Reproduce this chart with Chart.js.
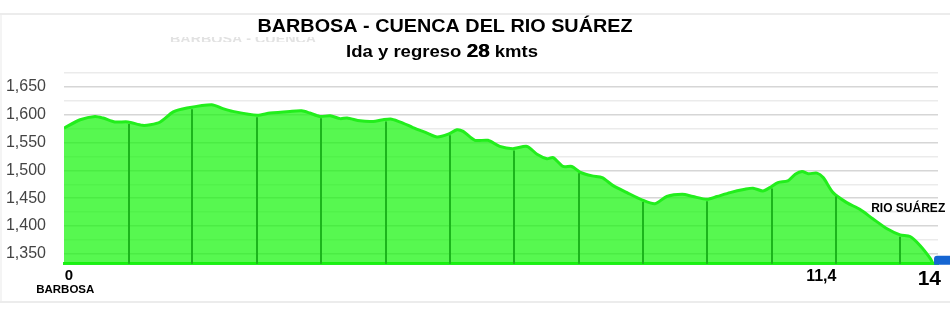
<!DOCTYPE html>
<html>
<head>
<meta charset="utf-8">
<title>Barbosa - Cuenca del Rio Suárez</title>
<script src="https://cdn.jsdelivr.net/npm/chart.js@4.4.1/dist/chart.umd.min.js"></script>
<style>
  html, body { margin: 0; padding: 0; background: #fff; }
  canvas { display: block; }
</style>
</head>
<body>
<canvas id="profile" width="950" height="314"></canvas>
<script>
// distance along the route (km) and elevation (m)
const distanceKm = [0, 0.26, 0.5, 0.63, 0.82, 1.03, 1.26, 1.39, 1.55, 1.76, 1.98, 2.38, 2.56, 2.72,
  3.11, 3.32, 3.64, 3.83, 3.96, 4.12, 4.29, 4.45, 4.56, 4.77, 4.98, 5.14, 5.28, 5.46, 5.62,
  5.85, 6.01, 6.19, 6.33, 6.43, 6.62, 6.83, 7.02, 7.23, 7.46, 7.62, 7.78, 7.88, 8.04, 8.18,
  8.31, 8.51, 8.67, 8.84, 9.07, 9.31, 9.52, 9.71, 9.96, 10.13, 10.36, 10.52, 10.73, 10.97,
  11.1, 11.26, 11.37, 11.5, 11.66, 11.78, 11.89, 11.99, 12.13, 12.23, 12.39, 12.61, 12.82,
  13.03, 13.26, 13.47, 13.63, 13.79, 13.96, 14];
const elevationM = [1576, 1591, 1597, 1594, 1587, 1587, 1581, 1582, 1587, 1605, 1612, 1618, 1611, 1606,
  1599, 1603, 1606, 1607, 1603, 1597, 1598, 1593, 1594, 1589, 1588, 1591, 1592, 1585, 1577,
  1567, 1560, 1565, 1573, 1570, 1554, 1554, 1543, 1539, 1543, 1529, 1521, 1523, 1507, 1507,
  1497, 1490, 1487, 1473, 1460, 1447, 1440, 1453, 1457, 1453, 1448, 1453, 1460, 1466,
  1468, 1463, 1469, 1478, 1481, 1493, 1498, 1494, 1495, 1487, 1460, 1442, 1430,
  1413, 1395, 1384, 1381, 1365, 1341, 1332];

// darker vertical markers inside the profile (km)
const dividerKm = [1.04, 2.07, 3.11, 4.14, 5.18, 6.22, 7.25, 8.29, 9.32, 10.36, 11.4, 12.43, 13.47];

// y grid: every 25 m, labelled every 50 m
const yTickValues = [1350, 1375, 1400, 1425, 1450, 1475, 1500, 1525, 1550, 1575, 1600, 1625, 1650, 1675];

// labels under the axis, at the spots where they sit in the picture
const xTickValues = [0.08, 12.2, 13.94];
const xTickLabels = ['0', '11,4', '14'];
const xTickFonts = [
  { size: 15, weight: 'bold' },
  { size: 16, weight: 'bold' },
  { size: 21, weight: 'bold' }
];

const titleText = 'BARBOSA - CUENCA DEL RIO SUÁREZ';
const subtitleParts = ['Ida y regreso ', '28', ' kmts'];
const startName = 'BARBOSA';
const endName = 'RIO SUÁREZ';

const FONT = '"Liberation Sans", Arial, sans-serif';

function elevationAt(km) {
  for (let i = 1; i < distanceKm.length; i++) {
    if (km <= distanceKm[i]) {
      const t = (km - distanceKm[i - 1]) / (distanceKm[i] - distanceKm[i - 1]);
      return elevationM[i - 1] + t * (elevationM[i] - elevationM[i - 1]);
    }
  }
  return elevationM[elevationM.length - 1];
}

// text in the original is a little stretched sideways
function wideText(c, text, cx, y, stretch) {
  c.save();
  c.translate(cx, y);
  c.scale(stretch, 1);
  c.fillText(text, 0, 0);
  c.restore();
}

const decorPlugin = {
  id: 'decor',
  beforeDraw(chart) {
    const c = chart.ctx;
    c.save();
    c.fillStyle = '#fff';
    c.fillRect(0, 0, chart.width, chart.height);
    // faint frame lines of the original screenshot
    c.fillStyle = '#ececec';
    c.fillRect(0, 13, chart.width, 2);
    c.fillRect(0, 301, chart.width, 2);
    c.fillStyle = '#f4f4f4';
    c.fillRect(0, 15, 2, 286);
    c.restore();
  },
  afterDatasetsDraw(chart) {
    const c = chart.ctx;
    const xs = chart.scales.x, ys = chart.scales.y;
    const bottom = chart.chartArea.bottom;
    c.save();
    c.strokeStyle = '#1cb51c';
    c.lineWidth = 2;
    dividerKm.forEach(km => {
      const x = Math.round(xs.getPixelForValue(km));
      const y = ys.getPixelForValue(elevationAt(km));
      c.beginPath();
      c.moveTo(x, bottom);
      c.lineTo(x, y + 2);
      c.stroke();
    });
    c.restore();
  },
  afterDraw(chart) {
    const c = chart.ctx;
    const xs = chart.scales.x;
    const area = chart.chartArea;
    c.save();
    // blue end marker
    c.fillStyle = '#1565d2';
    const bx = xs.getPixelForValue(14);
    c.beginPath();
    c.roundRect(bx + 1, area.bottom - 8, chart.width - bx, 9, [3, 0, 0, 0]);
    c.fill();

    // ghost text left over in the original
    c.save();
    c.beginPath();
    c.rect(160, 37, 170, 5);
    c.clip();
    c.fillStyle = '#e2e2e2';
    c.font = 'bold 13px ' + FONT;
    c.textAlign = 'left';
    c.textBaseline = 'alphabetic';
    wideText(c, 'BARBOSA - CUENCA', 170, 43, 1.1);
    c.restore();

    // titles
    c.fillStyle = '#000';
    c.textBaseline = 'alphabetic';
    c.textAlign = 'center';
    c.font = 'bold 18px ' + FONT;
    wideText(c, titleText, 445, 32, 1.1);

    const fonts = ['bold 17px ' + FONT, 'bold 19px ' + FONT, 'bold 17px ' + FONT];
    const stretch = 1.09;
    let total = 0;
    const widths = subtitleParts.map((t, i) => {
      c.font = fonts[i];
      const w = c.measureText(t).width * stretch;
      total += w;
      return w;
    });
    let sx = 442 - total / 2;
    subtitleParts.forEach((t, i) => {
      c.font = fonts[i];
      wideText(c, t, sx + widths[i] / 2, 57, stretch);
      if (i === 1) wideText(c, t, sx + widths[i] / 2 + 0.5, 57, stretch);
      sx += widths[i];
    });

    // place names
    c.font = 'bold 11.5px ' + FONT;
    c.fillText(startName, xs.getPixelForValue(0.02), 293);
    c.font = 'bold 12px ' + FONT;
    c.fillText(endName, xs.getPixelForValue(13.6), 212);
    c.restore();
  }
};

new Chart(document.getElementById('profile'), {
  type: 'line',
  data: {
    datasets: [{
      label: 'Elevación',
      data: distanceKm.map((d, i) => ({ x: d, y: elevationM[i] })),
      borderColor: '#22ee1c',
      borderWidth: 3,
      backgroundColor: 'rgba(16,245,5,0.7)',
      fill: 'start',
      tension: 0.25,
      pointRadius: 0
    }]
  },
  options: {
    responsive: false,
    animation: false,
    layout: { padding: { top: 73, right: 12, bottom: 19, left: 6 } },
    plugins: {
      legend: { display: false },
      tooltip: { enabled: false }
    },
    scales: {
      x: {
        type: 'linear',
        min: 0,
        max: 14.08,
        afterBuildTicks: axis => { axis.ticks = xTickValues.map(v => ({ value: v })); },
        grid: { display: false, drawTicks: false },
        border: { display: true, color: '#22ee1c', width: 3 },
        ticks: {
          autoSkip: false,
          maxRotation: 0,
          padding: 3,
          color: '#000',
          font: ctx => Object.assign({ family: FONT }, xTickFonts[ctx.index] || xTickFonts[0]),
          callback: (v, i) => xTickLabels[i]
        }
      },
      y: {
        min: 1332,
        max: 1675,
        afterBuildTicks: axis => { axis.ticks = yTickValues.map(v => ({ value: v })); },
        afterFit: axis => { axis.width = 58; },
        grid: {
          drawTicks: false,
          color: ctx => (ctx.tick && ctx.tick.value % 50 === 0) ? '#d6d6d6' : '#ebebeb',
          lineWidth: 1.5
        },
        border: { display: false },
        ticks: {
          autoSkip: false,
          padding: 18,
          color: '#444',
          font: { family: FONT, size: 16 },
          callback: v => v % 50 === 0 ? v.toLocaleString('en-US') : ''
        }
      }
    }
  },
  plugins: [decorPlugin]
});
</script>
</body>
</html>
